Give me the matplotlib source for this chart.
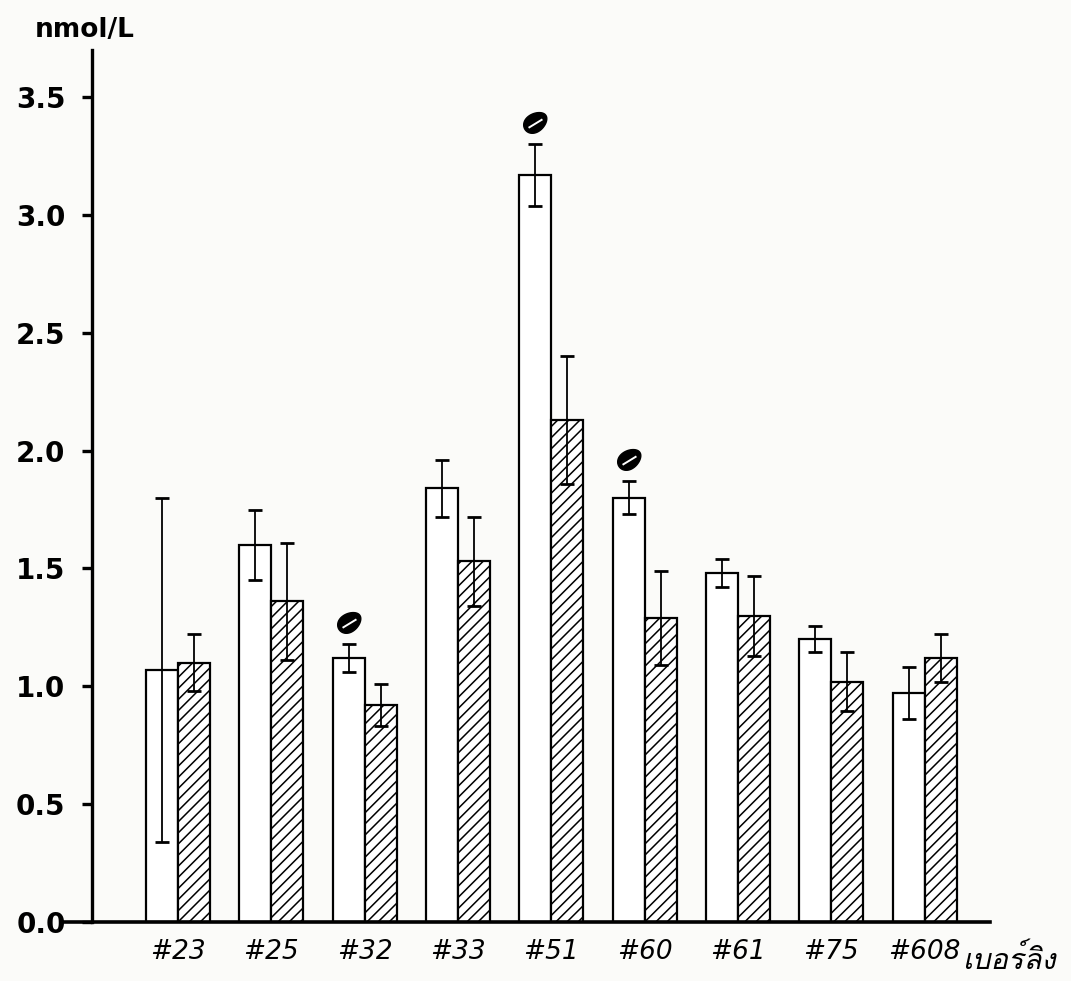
import numpy as np
import matplotlib
matplotlib.use("Agg")
import matplotlib.pyplot as plt
from matplotlib import font_manager
from matplotlib.ft2font import FT2Font
from matplotlib.path import Path
from matplotlib.transforms import offset_copy

# Monkey numbers and hormone levels (nmol/L), mean with error
monkeys = ["#23", "#25", "#32", "#33", "#51", "#60", "#61", "#75", "#608"]
before_mean = [1.07, 1.60, 1.12, 1.84, 3.17, 1.80, 1.48, 1.20, 0.97]
before_err = [0.73, 0.15, 0.06, 0.12, 0.13, 0.07, 0.06, 0.055, 0.11]
after_mean = [1.10, 1.36, 0.92, 1.53, 2.13, 1.29, 1.30, 1.02, 1.12]
after_err = [0.12, 0.25, 0.09, 0.19, 0.27, 0.20, 0.17, 0.125, 0.10]
significant = ["#32", "#51", "#60"]

y_ticks = [0.0, 0.5, 1.0, 1.5, 2.0, 2.5, 3.0, 3.5]
y_unit = "nmol/L"
x_title = "เบอร์ลิง"


def font_with(ch):
    for f in font_manager.fontManager.ttflist:
        try:
            if ord(ch) in FT2Font(f.fname).get_charmap():
                return f.name
        except Exception:
            continue
    return None


thai_font = font_with("บ") or "DejaVu Sans"

plt.rcParams["hatch.linewidth"] = 1.1
plt.rcParams["hatch.color"] = "black"

fig = plt.figure(figsize=(10.71, 9.81), dpi=100, facecolor="#fbfbf9")
ax = fig.add_axes([63 / 1071, 59 / 981, (990 - 63) / 1071, (931 - 59) / 981])
ax.set_facecolor("none")

x = np.arange(len(monkeys))
w = 0.343

ax.bar(x - w / 2, before_mean, w, color="white", edgecolor="black",
       linewidth=1.6, zorder=2)
ax.bar(x + w / 2, after_mean, w, color="white", edgecolor="black",
       linewidth=1.6, hatch="///", zorder=2)

err_kw = dict(fmt="none", ecolor="black", elinewidth=1.3, capsize=5,
              capthick=2.0, zorder=3)
ax.errorbar(x - w / 2, before_mean, yerr=before_err, **err_kw)
ax.errorbar(x + w / 2, after_mean, yerr=after_err, **err_kw)

# significance mark: filled tilted leaf with a white slit, above the cap
t = np.linspace(0, 2 * np.pi, 80)
ex = np.cos(t)
ey = 0.72 * np.sin(t) * (1 - 0.12 * np.cos(t))
ang = np.deg2rad(35)
leaf = Path(np.column_stack([ex * np.cos(ang) - ey * np.sin(ang),
                             ex * np.sin(ang) + ey * np.cos(ang)]))
slit = Path([(-0.55, -0.42), (0.55, 0.25)], [Path.MOVETO, Path.LINETO])
above = offset_copy(ax.transData, fig=fig, x=0, y=22, units="dots")
for name in significant:
    i = monkeys.index(name)
    top = before_mean[i] + before_err[i]
    ax.plot(x[i] - w / 2, top, marker=leaf, markersize=17, color="black",
            zorder=4, clip_on=False, transform=above)
    ax.plot(x[i] - w / 2, top, marker=slit, markersize=10,
            markerfacecolor="none", markeredgecolor="white",
            markeredgewidth=1.4, zorder=5, clip_on=False, transform=above)

# axis geometry
left_px, yaxis_px, right_px, c0_px, step_px = 63, 92, 990, 177.9, 93.33
ax.set_xlim((left_px - c0_px) / step_px, (right_px - c0_px) / step_px)
ax.set_ylim(0, 3.70)

for s in ["top", "right"]:
    ax.spines[s].set_visible(False)
ax.spines["left"].set_position(("data", (yaxis_px - c0_px) / step_px))
ax.spines["left"].set_linewidth(2.4)
ax.spines["bottom"].set_linewidth(2.6)

ax.set_yticks(y_ticks)
ax.set_yticklabels([f"{v:.1f}" for v in y_ticks], fontsize=20,
                   fontweight="bold")
ax.tick_params(axis="y", length=7, width=2.4, pad=12, direction="out")

ax.set_xticks(x)
ax.set_xticklabels(monkeys, fontsize=19, fontstyle="italic")
ax.tick_params(axis="x", length=0, pad=12)

fig.text(35 / 1071, 1 - 30 / 981, y_unit, fontsize=19, fontweight="bold",
         ha="left", va="center")
fig.text(962 / 1071, 1 - 960 / 981, x_title, fontsize=21, fontstyle="italic",
         family=[thai_font, "DejaVu Sans"], ha="left", va="center")

fig.savefig("out.png", dpi=100, facecolor=fig.get_facecolor())
